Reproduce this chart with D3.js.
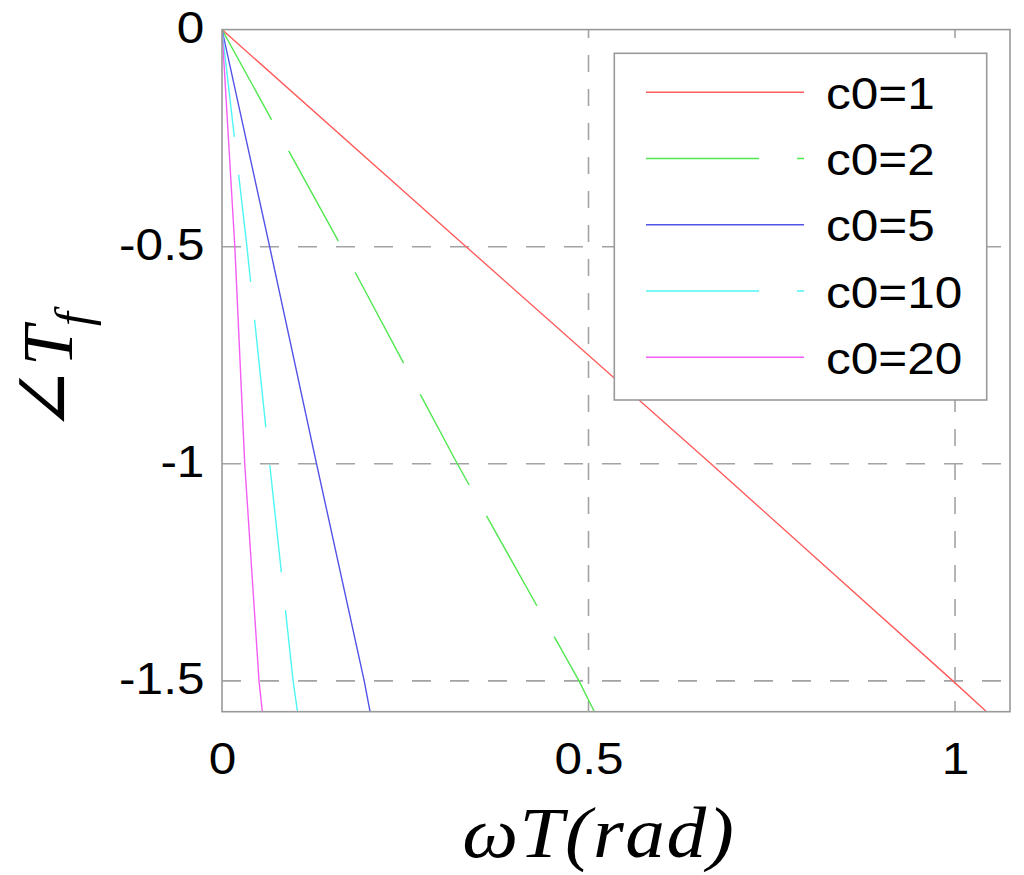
<!DOCTYPE html>
<html>
<head>
<meta charset="utf-8">
<script src="https://cdn.jsdelivr.net/npm/d3@7"></script>
<style>
body { margin: 0; background: #fff; }
svg { display: block; }
</style>
</head>
<body>
<svg id="chart" width="1024" height="875"></svg>
<script>
/* values: [wT, phase] */
var seriesNames = ["c0=1", "c0=2", "c0=5", "c0=10", "c0=20"];
var c0_1  = [[0, 0], [0.333, -0.5], [0.667, -1.0], [0.997, -1.5], [1.043, -1.571]];
var c0_2  = [[0, 0], [0.163, -0.5], [0.321, -1.0], [0.487, -1.5], [0.508, -1.571]];
var c0_5  = [[0, 0], [0.065, -0.5], [0.129, -1.0], [0.194, -1.5], [0.202, -1.571]];
var c0_10 = [[0, 0], [0.034, -0.5], [0.065, -1.0], [0.097, -1.5], [0.103, -1.571]];
var c0_20 = [[0, 0], [0.0175, -0.5], [0.031, -1.0], [0.0505, -1.5], [0.055, -1.571]];
var xTicks = [0, 0.5, 1];
var yTicks = [0, -0.5, -1, -1.5];
var xLimits = [0, 1.075];
var yLimits = [0, -1.571];

var allSeries = [c0_1, c0_2, c0_5, c0_10, c0_20];
var colors = ["#ff5c5c", "#4fe84f", "#5252e8", "#4ff5f5", "#f55cf5"];
var dashes = [null, "103,35.4", null, "108,38", null];
var legendDashes = [null, "113,38", null, "113,38", null];

// plot box in pixels
var pL = 222, pT = 29.6, pR = 1010, pB = 711.7;

var svg = d3.select("#chart");
var x = d3.scaleLinear().domain(xLimits).range([pL, pR]);
var y = d3.scaleLinear().domain(yLimits).range([pT, pB]);

svg.append("clipPath").attr("id", "plotClip")
    .append("rect")
    .attr("x", pL).attr("y", pT)
    .attr("width", pR - pL).attr("height", pB - pT);

// dashed grid
var grid = svg.append("g").attr("stroke", "#a3a3a3").attr("stroke-width", 1.6).attr("fill", "none");
grid.selectAll(".hgrid")
    .data(yTicks.filter(function(d) { return d !== 0; }))
    .enter().append("line")
    .attr("class", "hgrid")
    .attr("x1", pL).attr("x2", pR)
    .attr("y1", function(d) { return y(d); })
    .attr("y2", function(d) { return y(d); })
    .attr("stroke-dasharray", "19,19");
grid.selectAll(".vgrid")
    .data(xTicks.filter(function(d) { return d !== 0; }))
    .enter().append("line")
    .attr("class", "vgrid")
    .attr("y1", pT).attr("y2", pB)
    .attr("x1", function(d) { return x(d); })
    .attr("x2", function(d) { return x(d); })
    .attr("stroke-dasharray", "17,17")
    .attr("stroke-dashoffset", 8.6);

// curves
var line = d3.line()
    .x(function(d) { return x(d[0]); })
    .y(function(d) { return y(d[1]); });

svg.append("g").attr("clip-path", "url(#plotClip)")
    .selectAll("path")
    .data(allSeries)
    .enter().append("path")
    .attr("d", line)
    .attr("fill", "none")
    .attr("stroke", function(d, i) { return colors[i]; })
    .attr("stroke-width", 1.4)
    .attr("stroke-dasharray", function(d, i) { return dashes[i]; });

// axes (labels only, box drawn below)
var tickFont = "Liberation Sans, Arial, Helvetica, sans-serif";

var xAxis = svg.append("g")
    .attr("transform", "translate(0," + pB + ")")
    .call(d3.axisBottom(x).tickValues(xTicks).tickSize(0).tickPadding(30)
        .tickFormat(function(d) { return String(d); }));
var yAxis = svg.append("g")
    .attr("transform", "translate(" + pL + ",0)")
    .call(d3.axisLeft(y).tickValues(yTicks).tickSize(0).tickPadding(16)
        .tickFormat(function(d) { return String(d); }));

[xAxis, yAxis].forEach(function(ax) {
    ax.select(".domain").remove();
    ax.selectAll("text")
        .attr("font-family", tickFont)
        .attr("font-size", 45)
        .attr("fill", "#000")
        .attr("transform", "scale(1.1,1)");
});
yAxis.selectAll("text").attr("dy", "0.29em");

// axes box
svg.append("rect")
    .attr("x", pL).attr("y", pT)
    .attr("width", pR - pL).attr("height", pB - pT)
    .attr("fill", "none")
    .attr("stroke", "#999")
    .attr("stroke-width", 1.6);

// legend
var lg = svg.append("g");
lg.append("rect")
    .attr("x", 614.3).attr("y", 53.3)
    .attr("width", 372.4).attr("height", 346.7)
    .attr("fill", "#fff")
    .attr("stroke", "#999")
    .attr("stroke-width", 1.6);

var rowY = d3.scalePoint().domain(seriesNames).range([92.3, 357.3]);

lg.selectAll(".key")
    .data(seriesNames)
    .enter().append("line")
    .attr("class", "key")
    .attr("x1", 646).attr("x2", 804)
    .attr("y1", function(d) { return rowY(d); })
    .attr("y2", function(d) { return rowY(d); })
    .attr("stroke", function(d, i) { return colors[i]; })
    .attr("stroke-width", 1.6)
    .attr("stroke-dasharray", function(d, i) { return legendDashes[i]; });

lg.selectAll(".keytext")
    .data(seriesNames)
    .enter().append("text")
    .attr("class", "keytext")
    .attr("transform", function(d) { return "translate(826," + (rowY(d) + 16.5) + ") scale(1.1,1)"; })
    .attr("font-family", tickFont)
    .attr("font-size", 45)
    .text(function(d) { return d; });

// axis titles
svg.append("text")
    .attr("transform", "translate(598,857) scale(1.1,1)")
    .attr("text-anchor", "middle")
    .attr("font-family", "Liberation Serif, Times New Roman, serif")
    .attr("font-style", "italic")
    .attr("font-size", 72)
    .attr("textLength", 247)
    .attr("lengthAdjust", "spacing")
    .text("ωT(rad)");

var ylab = svg.append("text")
    .attr("transform", "translate(72,433) rotate(-90)")
    .attr("font-family", "Liberation Serif, DejaVu Serif, Times New Roman, serif")
    .attr("font-style", "italic")
    .attr("font-size", 72);
ylab.append("tspan").attr("font-size", 80).text("∠");
ylab.append("tspan").text("T");
ylab.append("tspan").attr("font-size", 50).attr("dy", 18).text("f");
</script>
</body>
</html>
